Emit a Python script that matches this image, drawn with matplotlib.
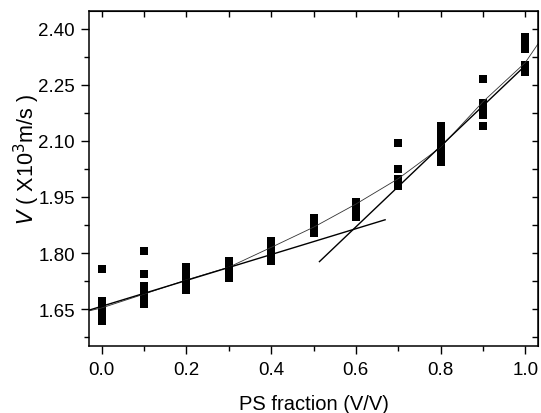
import numpy as np
import matplotlib
matplotlib.use('Agg')
import matplotlib.pyplot as plt
from matplotlib.ticker import MultipleLocator

plt.rcParams['font.family'] = ['Liberation Sans', 'DejaVu Sans']

# measured points, one list per PS fraction
ps = [0.0, 0.1, 0.2, 0.3, 0.4, 0.5, 0.6, 0.7, 0.8, 0.9, 1.0]
v_pts = [
    [1.757, 1.671, 1.655, 1.642, 1.630, 1.619],
    [1.805, 1.744, 1.712, 1.702, 1.692, 1.682, 1.672, 1.663],
    [1.762, 1.748, 1.735, 1.722, 1.710, 1.701],
    [1.778, 1.766, 1.755, 1.744, 1.733],
    [1.832, 1.820, 1.808, 1.795, 1.778],
    [1.894, 1.882, 1.870, 1.860, 1.853],
    [1.937, 1.925, 1.913, 1.903, 1.896],
    [2.095, 2.025, 1.998, 1.989, 1.980],
    [2.140, 2.121, 2.103, 2.084, 2.062, 2.044],
    [2.266, 2.202, 2.192, 2.181, 2.170, 2.140],
    [2.378, 2.368, 2.346, 2.304, 2.295, 2.285],
]

# thin curve through the data
curve_x = [-0.03, 0.0, 0.1, 0.2, 0.3, 0.4, 0.5, 0.6, 0.7, 0.8, 0.9, 1.0, 1.03]
curve_v = [1.645, 1.653, 1.690, 1.728, 1.762, 1.815, 1.869, 1.931, 1.999, 2.083, 2.205, 2.310, 2.360]

# two straight line fits
fit1_x = [-0.03, 0.669]
fit1_v = [1.647, 1.889]
fit2_x = [0.514, 1.0]
fit2_v = [1.777, 2.302]

fig = plt.figure(figsize=(5.41, 4.14), dpi=100)
ax = fig.add_axes([0.1645, 0.1618, 0.83, 0.8092])

for x, vs in zip(ps, v_pts):
    ax.plot([x] * len(vs), vs, 's', color='black', ms=5.5, mew=0)

ax.plot(curve_x, curve_v, color='#333333', lw=0.6)
ax.plot(fit1_x, fit1_v, color='black', lw=1.0)
ax.plot(fit2_x, fit2_v, color='black', lw=1.0)

ax.set_xlim(-0.03, 1.03)
ax.set_ylim(1.551, 2.448)
ax.xaxis.set_minor_locator(MultipleLocator(0.1))
ax.yaxis.set_minor_locator(MultipleLocator(0.075))
ax.set_xticks(np.arange(0, 1.01, 0.2))
ax.set_xticklabels(['0.0', '0.2', '0.4', '0.6', '0.8', '1.0'])
ax.set_yticks(np.arange(1.65, 2.41, 0.15))
ax.set_yticklabels(['1.65', '1.80', '1.95', '2.10', '2.25', '2.40'])

ax.tick_params(which='major', direction='out', length=6, width=1, labelsize=13.5, pad=4)
ax.tick_params(axis='x', which='major', pad=5)
ax.tick_params(which='minor', direction='out', length=3.5, width=1)

# inward ticks on top and right
top = ax.secondary_xaxis('top')
top.xaxis.set_major_locator(MultipleLocator(0.1))
top.tick_params(which='both', direction='in', length=4, width=1, labeltop=False)
right = ax.secondary_yaxis('right')
right.yaxis.set_major_locator(MultipleLocator(0.075))
right.tick_params(which='both', direction='in', length=4, width=1, labelright=False)

for s in ax.spines.values():
    s.set_linewidth(1.1)

ax.set_xlabel('PS fraction (V/V)', fontsize=14.5, labelpad=11)
ax.set_ylabel(r'$\mathit{V}$ ( X10$^3$m/s )', fontsize=15.5)
ax.yaxis.set_label_coords(-0.105, 0.56)

fig.savefig('out.png', dpi=100)
